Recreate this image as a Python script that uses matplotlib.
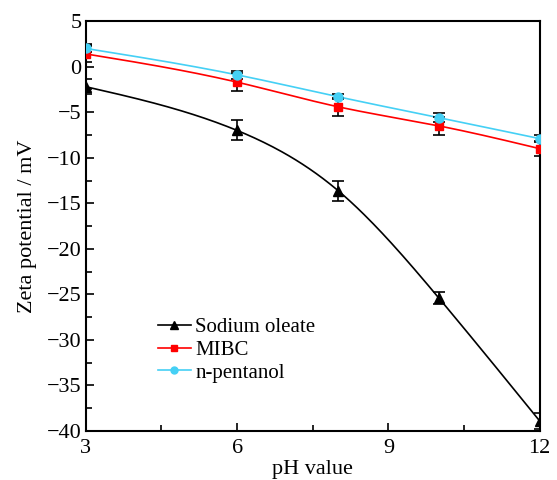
import numpy as np
import matplotlib
matplotlib.use('Agg')
import matplotlib.pyplot as plt

# data
ph = [3, 6, 8, 10, 12]
oleate = [-2.2, -7.0, -13.6, -25.4, -38.9]
oleate_err = [0.8, 1.1, 1.1, 0.7, 0.9]
mibc = [1.4, -1.7, -4.4, -6.5, -9.0]
mibc_err = [0.9, 1.0, 1.0, 1.0, 0.8]
pentanol = [2.0, -0.9, -3.3, -5.6, -7.9]
pentanol_err = [0.4, 0.4, 0.3, 0.5, 0.4]


def spline(x, y, n=200):
    # natural cubic spline, only used to draw a smooth connecting line
    x = np.asarray(x, float)
    y = np.asarray(y, float)
    h = np.diff(x)
    m = len(x)
    A = np.zeros((m, m))
    b = np.zeros(m)
    A[0, 0] = A[-1, -1] = 1
    for i in range(1, m - 1):
        A[i, i - 1] = h[i - 1]
        A[i, i] = 2 * (h[i - 1] + h[i])
        A[i, i + 1] = h[i]
        b[i] = 6 * ((y[i + 1] - y[i]) / h[i] - (y[i] - y[i - 1]) / h[i - 1])
    M = np.linalg.solve(A, b)
    xs = np.linspace(x[0], x[-1], n)
    idx = np.clip(np.searchsorted(x, xs) - 1, 0, m - 2)
    x0, x1 = x[idx], x[idx + 1]
    hh = x1 - x0
    t0, t1 = x1 - xs, xs - x0
    ys = (M[idx] * t0**3 + M[idx + 1] * t1**3) / (6 * hh) \
        + (y[idx] / hh - M[idx] * hh / 6) * t0 \
        + (y[idx + 1] / hh - M[idx + 1] * hh / 6) * t1
    return xs, ys


plt.rcParams['font.family'] = ['Liberation Serif', 'DejaVu Serif']

fig = plt.figure(figsize=(5.57, 4.8), dpi=100)
ax = fig.add_axes([0.154, 0.102, 0.815, 0.854])

series = [
    (oleate, oleate_err, 'black', '^', 'Sodium oleate', 7),
    (mibc, mibc_err, '#ff0000', 's', 'MIBC', 6),
    (pentanol, pentanol_err, '#45d0f5', 'o', 'n-pentanol', 6.5),
]
handles = []
for y, err, c, mk, lab, ms in series:
    xs, ys = spline(ph, y)
    ax.plot(xs, ys, color=c, lw=1.2, zorder=2)
    ax.errorbar(ph, y, yerr=err, fmt='none', ecolor='black', elinewidth=1.2,
                capsize=4, capthick=1.2, zorder=3)
    ax.plot(ph, y, ls='none', marker=mk, color=c, ms=ms, zorder=4)
    h, = ax.plot([], [], color=c, lw=1.2, marker=mk, ms=ms - 1.5)
    h.set_label(lab)
    handles.append(h)

ax.set_xlim(3, 12)
ax.set_ylim(-40, 5)
ax.set_xticks([3, 6, 9, 12])
ax.set_xticks([4.5, 7.5, 10.5], minor=True)
ax.set_yticks(np.arange(-40, 6, 5))
ax.set_yticks(np.arange(-37.5, 5, 5), minor=True)
ax.set_yticklabels(['\u2212' + str(-v) if v < 0 else str(v) for v in range(-40, 6, 5)])
ax.tick_params(direction='in', labelsize=16, width=1.2, length=6, pad=3)
ax.tick_params(axis='x', pad=6)
ax.tick_params(which='minor', direction='in', width=1.2, length=4)
for s in ax.spines.values():
    s.set_linewidth(1.5)

ax.set_xlabel('pH value', fontsize=16, labelpad=1)
ax.set_ylabel('Zeta potential / mV', fontsize=16, labelpad=7)

ax.legend(handles=handles, loc='lower left', bbox_to_anchor=(0.14, 0.098),
          frameon=False, fontsize=15, handlelength=1.6, handletextpad=0.2,
          labelspacing=0.15, borderaxespad=0)

fig.savefig('out.png', dpi=100)
